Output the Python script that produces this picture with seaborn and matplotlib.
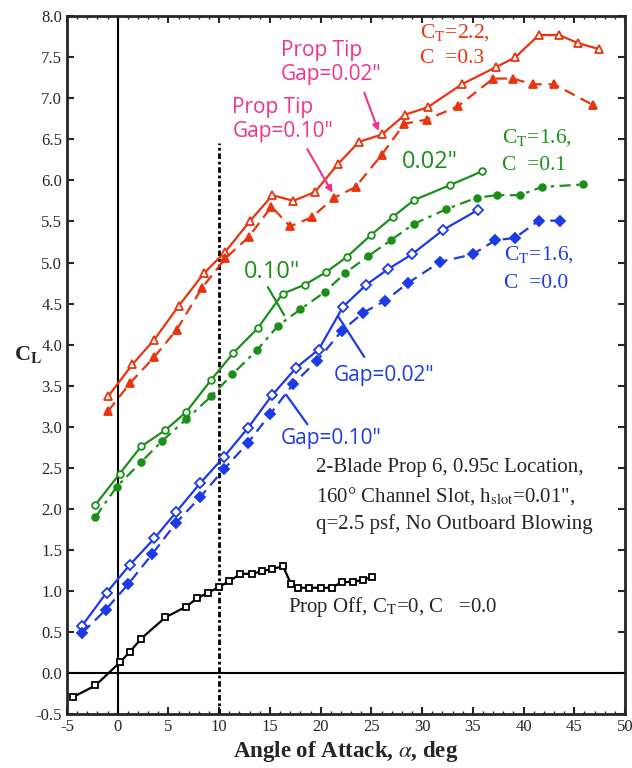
import matplotlib
matplotlib.use("Agg")
import matplotlib.pyplot as plt
from matplotlib.ticker import MultipleLocator
import seaborn as sns

# Prop off
off_x = [-4.4, -2.2, 0.2, 1.2, 2.3, 4.7, 6.75, 7.8, 8.9, 10.0, 11.0, 12.1, 13.2, 14.2, 15.2,
         16.3, 17.1, 17.8, 18.9, 20.0, 21.1, 22.1, 23.2, 24.2, 25.1]
off_y = [-0.29, -0.15, 0.13, 0.26, 0.42, 0.68, 0.81, 0.91, 0.98, 1.05, 1.12, 1.21, 1.21, 1.24, 1.27,
         1.30, 1.08, 1.04, 1.04, 1.04, 1.04, 1.11, 1.11, 1.14, 1.17]

# C_T=1.6, Cmu=0.0 (blue)
blue02_x = [-3.5, -1.1, 1.2, 3.6, 5.75, 8.1, 10.45, 12.8, 15.25, 17.6, 19.8, 22.2, 24.5, 26.65,
            29.0, 32.1, 35.5]
blue02_y = [0.58, 0.98, 1.32, 1.64, 1.96, 2.31, 2.63, 2.98, 3.39, 3.72, 3.94, 4.46, 4.73, 4.92,
            5.10, 5.40, 5.64]
blue10_x = [-3.5, -1.2, 1.0, 3.4, 5.75, 8.1, 10.45, 12.8, 15.0, 17.3, 19.6, 22.1, 24.2, 26.3,
            28.6, 31.8, 35.0, 37.2, 39.15, 41.5, 43.6]
blue10_y = [0.49, 0.77, 1.08, 1.45, 1.83, 2.14, 2.48, 2.80, 3.15, 3.52, 3.80, 4.17, 4.39, 4.53,
            4.75, 5.01, 5.10, 5.27, 5.30, 5.51, 5.51]

# C_T=1.6, Cmu=0.1 (green)
green02_x = [-2.2, 0.2, 2.3, 4.7, 6.75, 9.2, 11.4, 13.8, 16.25, 18.45, 20.5, 22.6, 25.0, 27.15,
             29.2, 32.7, 35.9]
green02_y = [2.05, 2.43, 2.76, 2.96, 3.18, 3.57, 3.90, 4.20, 4.62, 4.73, 4.88, 5.07, 5.34, 5.56,
             5.76, 5.94, 6.11]
green10_x = [-2.2, -0.1, 2.3, 4.4, 6.75, 9.2, 11.3, 13.7, 15.8, 18.0, 20.4, 22.4, 24.7, 26.9,
             29.2, 32.4, 35.4, 37.4, 39.6, 41.8, 45.9]
green10_y = [1.90, 2.27, 2.57, 2.83, 3.09, 3.37, 3.64, 3.93, 4.23, 4.43, 4.64, 4.87, 5.08, 5.27,
             5.47, 5.65, 5.79, 5.82, 5.82, 5.92, 5.95]

# C_T=2.2, Cmu=0.3 (red)
red02_x = [-0.95, 1.45, 3.6, 6.0, 8.5, 10.6, 13.0, 15.25, 17.3, 19.45, 21.7, 23.8, 26.05, 28.3,
           30.55, 33.9, 37.3, 39.2, 41.5, 43.5, 45.4, 47.4]
red02_y = [3.37, 3.76, 4.06, 4.47, 4.87, 5.13, 5.50, 5.82, 5.75, 5.86, 6.20, 6.47, 6.56, 6.80,
           6.89, 7.17, 7.38, 7.50, 7.77, 7.77, 7.67, 7.60]
red10_x = [-0.95, 1.2, 3.6, 5.8, 8.3, 10.6, 12.9, 15.15, 17.0, 19.1, 21.35, 23.45, 26.0, 28.25,
           30.45, 33.5, 37.0, 38.95, 40.9, 43.0, 46.8]
red10_y = [3.19, 3.53, 3.85, 4.18, 4.69, 5.05, 5.31, 5.68, 5.44, 5.55, 5.79, 5.92, 6.31, 6.69,
           6.74, 6.90, 7.24, 7.24, 7.17, 7.17, 6.92]

RED = "#e8340f"
GREEN = "#1a8f1a"
BLUE = "#1c3be6"
PINK = "#f2338c"

sns.set_style("ticks")
plt.rcParams["font.family"] = ["Liberation Serif", "DejaVu Serif"]
plt.rcParams["mathtext.fontset"] = "stix"
plt.rcParams["axes.unicode_minus"] = False

fig = plt.figure(figsize=(6.32, 7.68), dpi=100)
ax = fig.add_axes([0.106, 0.070, 0.883, 0.909])


def draw(x, y, color, marker, filled, ls, ms=4.8):
    sns.lineplot(x=x, y=y, ax=ax, color=color, marker=marker, markersize=ms,
                 markerfacecolor=color if filled else "white", markeredgecolor=color,
                 markeredgewidth=1.3, linestyle=ls, linewidth=1.6, sort=False,
                 estimator=None, legend=False)


ax.axhline(0, color="black", lw=1.5, zorder=1)
ax.axvline(0, color="black", lw=1.5, zorder=1)
ax.plot([10, 10], [-0.5, 6.45], color="black", lw=2, linestyle=(0, (2, 1, 1, 1)), zorder=1)

draw(off_x, off_y, "black", "s", False, "-")
draw(blue02_x, blue02_y, BLUE, "D", False, "-")
draw(blue10_x, blue10_y, BLUE, "D", True, (0, (5, 3)))
draw(green02_x, green02_y, GREEN, "o", False, "-")
draw(green10_x, green10_y, GREEN, "o", True, (0, (5, 2.5, 1.5, 2.5)))
draw(red02_x, red02_y, RED, "^", False, "-", ms=5.5)
draw(red10_x, red10_y, RED, "^", True, (0, (5, 3)), ms=5.5)

ax.set_xlim(-5, 50)
ax.set_ylim(-0.5, 8.0)
ax.xaxis.set_major_locator(MultipleLocator(5))
ax.xaxis.set_minor_locator(MultipleLocator(1))
ax.yaxis.set_major_locator(MultipleLocator(0.5))
ax.yaxis.set_major_formatter(matplotlib.ticker.FormatStrFormatter("%.1f"))
ax.tick_params(which="both", direction="in", top=True, right=True, labelsize=12, width=1.5)
ax.tick_params(which="major", length=5)
ax.tick_params(which="minor", length=2.5, width=1)
for s in ax.spines.values():
    s.set_linewidth(2)
    s.set_visible(True)

ax.set_xlabel(r"Angle of Attack, $\alpha$, deg", fontsize=16.5, fontweight="bold", labelpad=3)
ax.set_ylabel(r"C$_\mathbf{L}$", fontsize=16, fontweight="bold", rotation=0)
ax.yaxis.set_label_coords(-0.07, 0.5)

sans = ["Open Sans", "DejaVu Sans"]
ann = 15.5
# curve annotations
ax.text(29.8, 7.80, r"C$_{\rm T}$=2.2,", color=RED, fontsize=ann, va="center")
ax.text(29.8, 7.49, "C  =0.3", color=RED, fontsize=ann, va="center")
ax.text(37.9, 6.52, r"C$_{\rm T}$=1.6,", color=GREEN, fontsize=ann, va="center")
ax.text(37.9, 6.18, "C  =0.1", color=GREEN, fontsize=ann, va="center")
ax.text(38.1, 5.10, r"C$_{\rm T}$=1.6,", color=BLUE, fontsize=ann, va="center")
ax.text(38.1, 4.75, "C  =0.0", color=BLUE, fontsize=ann, va="center")

lab = 15
ax.text(16.1, 7.44, "Prop Tip\nGap=0.02\"", color=PINK, fontsize=lab, va="center",
        family=sans, linespacing=1.2)
ax.annotate("", xy=(25.8, 6.57), xytext=(24.2, 7.10),
            arrowprops=dict(arrowstyle="-|>", color=PINK, lw=1.5, mutation_scale=10))
ax.text(11.3, 6.74, "Prop Tip\nGap=0.10\"", color=PINK, fontsize=lab, va="center",
        family=sans, linespacing=1.2)
ax.annotate("", xy=(21.3, 5.82), xytext=(18.55, 6.41),
            arrowprops=dict(arrowstyle="-|>", color=PINK, lw=1.5, mutation_scale=10))

ax.text(28.0, 6.22, "0.02\"", color=GREEN, fontsize=17, va="center", family=sans)
ax.text(12.4, 4.88, "0.10\"", color=GREEN, fontsize=17, va="center", family=sans)
ax.plot([14.8, 16.4], [4.70, 4.36], color=GREEN, lw=1.6)

ax.text(21.3, 3.63, "Gap=0.02\"", color=BLUE, fontsize=lab, va="center", family=sans)
ax.plot([21.7, 24.3], [4.35, 3.85], color=BLUE, lw=1.6)
ax.text(16.1, 2.86, "Gap=0.10\"", color=BLUE, fontsize=lab, va="center", family=sans)
ax.plot([16.6, 18.7], [3.39, 3.03], color=BLUE, lw=1.6)

note = 15
ax.text(19.5, 2.50, "2-Blade Prop 6, 0.95c Location,", fontsize=note, va="center")
ax.text(19.5, 2.16, "160° Channel Slot, h$_{\\rm slot}$=0.01\",", fontsize=note, va="center")
ax.text(19.5, 1.81, "q=2.5 psf, No Outboard Blowing", fontsize=note, va="center")
ax.text(16.8, 0.80, r"Prop Off, C$_{\rm T}$=0, C   =0.0", fontsize=note, va="center")

fig.savefig("out.png", dpi=100)
